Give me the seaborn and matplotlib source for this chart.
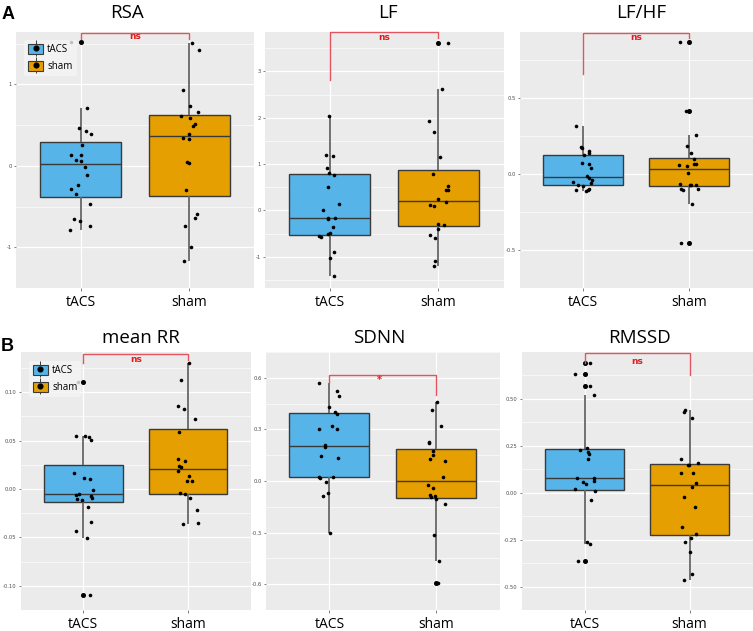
import matplotlib
matplotlib.use("Agg")
import matplotlib.pyplot as plt
from matplotlib.patches import Patch
from matplotlib.lines import Line2D
from matplotlib.legend_handler import HandlerTuple
import seaborn as sns
import pandas as pd
import numpy as np

# grupos y colores
grupos = ["tACS", "sham"]
colores = {"tACS": "#56B4E9", "sham": "#E69F00"}

# valores (20 sujetos por grupo)
rsa_tacs = [1.515, 0.714, 0.466, 0.427, 0.389, 0.256, 0.134, 0.130, 0.076, 0.057,
            -0.015, -0.107, -0.240, -0.290, -0.347, -0.473, -0.653, -0.679, -0.740, -0.782]
rsa_sham = [1.508, 1.424, 0.931, 0.740, 0.660, 0.607, 0.588, 0.519, 0.485, 0.397,
            0.340, 0.332, 0.050, 0.031, -0.294, -0.595, -0.641, -0.744, -1.000, -1.164]

lf_tacs = [2.029, 1.197, 1.176, 0.925, 0.803, 0.767, 0.495, 0.136, 0.007, -0.172,
           -0.172, -0.186, -0.351, -0.495, -0.516, -0.559, -0.566, -0.903, -1.032, -1.419]
lf_sham = [3.610, 2.624, 1.921, 1.692, 1.154, 0.789, 0.516, 0.444, 0.437, 0.244,
           0.172, 0.122, 0.100, -0.294, -0.308, -0.400, -0.523, -0.595, -1.097, -1.197]

lfhf_tacs = [0.318, 0.175, 0.171, 0.150, 0.137, 0.124, 0.070, 0.062, 0.036, -0.011,
             -0.028, -0.038, -0.053, -0.058, -0.075, -0.079, -0.100, -0.103, -0.109, -0.113]
lfhf_sham = [0.870, 0.414, 0.254, 0.182, 0.139, 0.096, 0.068, 0.065, 0.060, 0.051,
             0.009, -0.068, -0.071, -0.075, -0.075, -0.098, -0.102, -0.109, -0.197, -0.451]

rr_tacs = [0.111, 0.0550, 0.0543, 0.0533, 0.0506, 0.0166, 0.0119, 0.0102, -0.0007, -0.0048,
           -0.0058, -0.0068, -0.0095, -0.0105, -0.0115, -0.0187, -0.0340, -0.0430, -0.0506, -0.109]
rr_sham = [0.130, 0.1127, 0.0862, 0.0832, 0.0727, 0.0587, 0.0306, 0.0292, 0.0241, 0.0228,
           0.0183, 0.0136, 0.0088, 0.0081, -0.0044, -0.0054, -0.0095, -0.0217, -0.0353, -0.0363]

sdnn_tacs = [0.571, 0.521, 0.492, 0.429, 0.401, 0.391, 0.318, 0.303, 0.300, 0.212,
             0.195, 0.147, 0.136, 0.025, 0.0215, 0.020, -0.003, -0.070, -0.089, -0.305]
sdnn_sham = [0.457, 0.410, 0.318, 0.227, 0.2185, 0.1755, 0.154, 0.129, 0.1175, 0.025,
             -0.023, -0.040, -0.083, -0.089, -0.094, -0.103, -0.131, -0.316, -0.465, -0.593]

rmssd_tacs = [0.693, 0.632, 0.570, 0.519, 0.240, 0.2266, 0.215, 0.2036, 0.179, 0.0788,
              0.0788, 0.0624, 0.0558, 0.0476, 0.0197, 0.0066, -0.0378, -0.263, -0.2726, -0.363]
rmssd_sham = [0.440, 0.4286, 0.399, 0.1806, 0.156, 0.148, 0.146, 0.1034, 0.1034, 0.051,
              0.0279, -0.0246, -0.0755, -0.184, -0.220, -0.241, -0.261, -0.317, -0.432, -0.463]

# ticks del eje y
rsa_ticks = [-1, 0, 1]
rsa_labels = ["-1", "0", "1"]
lf_ticks = [-1, 0, 1, 2, 3]
lf_labels = ["-1", "0", "1", "2", "3"]
lfhf_ticks = [-0.5, 0.0, 0.5]
lfhf_labels = ["-0.5", "0.0", "0.5"]
rr_ticks = [-0.10, -0.05, 0.00, 0.05, 0.10]
rr_labels = ["-0.10", "-0.05", "0.00", "0.05", "0.10"]
sdnn_ticks = [-0.6, -0.3, 0.0, 0.3, 0.6]
sdnn_labels = ["-0.6", "-0.3", "0.0", "0.3", "0.6"]
rmssd_ticks = [-0.50, -0.25, 0.00, 0.25, 0.50]
rmssd_labels = ["-0.50", "-0.25", "0.00", "0.25", "0.50"]

# significancia
etiquetas_sig = ["ns", "ns", "ns", "ns", "*", "ns"]

W, H = 753, 631
fig = plt.figure(figsize=(W / 100, H / 100), dpi=100)
np.random.seed(7)

# (titulo, datos, ticks, posicion en px, ylim, titulo x, corchete, leyenda)
paneles = [
    ("RSA", rsa_tacs, rsa_sham, rsa_ticks, rsa_labels, (15.5, 31.5, 254.5, 288),
     (-1.306, 1.65), 127.5, (1.634, 1.557, 1.557, 1.592), True),
    ("LF", lf_tacs, lf_sham, lf_ticks, lf_labels, (264.5, 31.5, 503.5, 288),
     (-1.677, 3.864), 388, (3.85, 2.82, 3.72, 3.74), False),
    ("LF/HF", lfhf_tacs, lfhf_sham, lfhf_ticks, lfhf_labels, (519.5, 31.5, 752.5, 288),
     (-0.517, 0.936), 641, (0.927, 0.658, 0.895, 0.897), False),
    ("mean RR", rr_tacs, rr_sham, rr_ticks, rr_labels, (20.5, 352, 251, 610),
     (-0.1209, 0.1416), 141, (0.1396, 0.1304, 0.1338, 0.1338), True),
    ("SDNN", sdnn_tacs, sdnn_sham, sdnn_ticks, sdnn_labels, (265.5, 352, 500, 610),
     (-0.652, 0.629), 379, (0.617, 0.571, 0.498, 0.588), False),
    ("RMSSD", rmssd_tacs, rmssd_sham, rmssd_ticks, rmssd_labels, (521.5, 352, 752.5, 610),
     (-0.5205, 0.749), 640, (0.742, 0.693, 0.626, 0.698), False),
]

for i, (titulo, a, b, ticks, tlabels, pos, ylim, tx, corchete, leyenda) in enumerate(paneles):
    l, t, r, bt = pos
    ax = fig.add_axes([l / W, 1 - bt / H, (r - l) / W, (bt - t) / H])
    df = pd.DataFrame({"grupo": ["tACS"] * len(a) + ["sham"] * len(b), "valor": a + b})

    sns.boxplot(data=df, x="grupo", y="valor", hue="grupo", order=grupos, hue_order=grupos,
                palette=colores, saturation=1, width=0.75, linecolor="#3a3a3a", linewidth=1,
                showcaps=False,
                whiskerprops=dict(color="#666666", linewidth=1.3),
                flierprops=dict(marker="o", markerfacecolor="black", markeredgecolor="black",
                                markersize=2.6),
                legend=False, ax=ax)
    sns.stripplot(data=df, x="grupo", y="valor", order=grupos, color="black", size=2.6,
                  jitter=0.1, linewidth=0, ax=ax, zorder=3)

    ax.set_xlim(-0.6, 1.6)
    ax.set_ylim(*ylim)
    ax.set_facecolor("#EBEBEB")
    ax.set_axisbelow(True)
    for s in ax.spines.values():
        s.set_visible(False)
    ax.set_yticks(ticks, tlabels)
    paso = ticks[1] - ticks[0]
    menores = [v + paso / 2 for v in [ticks[0] - paso] + ticks]
    ax.set_yticks(menores, minor=True)
    ax.grid(True, which="major", color="white", linewidth=0.9)
    ax.grid(True, which="minor", axis="y", color="white", linewidth=0.45)
    ax.tick_params(axis="y", which="major", labelsize=3.8, labelcolor="#4D4D4D",
                   length=1.8, width=0.5, color="#4D4D4D", pad=1)
    ax.tick_params(axis="y", which="minor", length=0)
    ax.tick_params(axis="x", labelsize=10, length=1.8, width=0.5, color="#4D4D4D", pad=3)
    for lab in ax.get_xticklabels():
        lab.set_fontfamily("Open Sans")
    ax.set_xlabel("")
    ax.set_ylabel("")

    # corchete de significancia
    yb, yl, yr, yt = corchete
    ax.plot([0, 0, 1, 1], [yl, yb, yb, yr], color="#E25560", linewidth=1, zorder=4,
            clip_on=False)
    if etiquetas_sig[i] == "*":
        ax.text(0.47, yt, "*", color="#E31A1C", fontsize=7, fontweight="bold",
                ha="center", va="center", zorder=5)
    else:
        ax.text(0.5, yt, etiquetas_sig[i], color="#E31A1C", fontsize=6.5, fontweight="bold",
                ha="center", va="center", zorder=5)

    if leyenda:
        handles = [(Line2D([], [], marker="|", color="#3a3a3a", linestyle="none",
                           markersize=12, markeredgewidth=0.7),
                    Patch(facecolor=colores[g], edgecolor="#3a3a3a", linewidth=0.8),
                    Line2D([], [], marker="o", color="black", linestyle="none", markersize=3.4))
                   for g in grupos]
        leg = ax.legend(handles, grupos, handler_map={tuple: HandlerTuple(ndivide=1, pad=0)},
                        loc="upper left", bbox_to_anchor=(0.015, 0.985),
                        frameon=True, handlelength=1.6, handleheight=1.2, borderpad=0.4,
                        labelspacing=0.6, handletextpad=0.4,
                        prop={"family": "Open Sans", "size": 7})
        leg.get_frame().set_facecolor("#F4F4F4")
        leg.get_frame().set_edgecolor("none")

    fila = 17.5 if t < 100 else 343
    fig.text(tx / W, 1 - fila / H, titulo, ha="center", va="baseline", fontsize=13.5,
             fontfamily="Open Sans")

fig.text(2 / W, 1 - 19 / H, "A", fontsize=13, fontweight="bold", fontfamily="Liberation Sans")
fig.text(1 / W, 1 - 351 / H, "B", fontsize=13, fontweight="bold", fontfamily="Liberation Sans")

fig.savefig("out.png", dpi=100)
